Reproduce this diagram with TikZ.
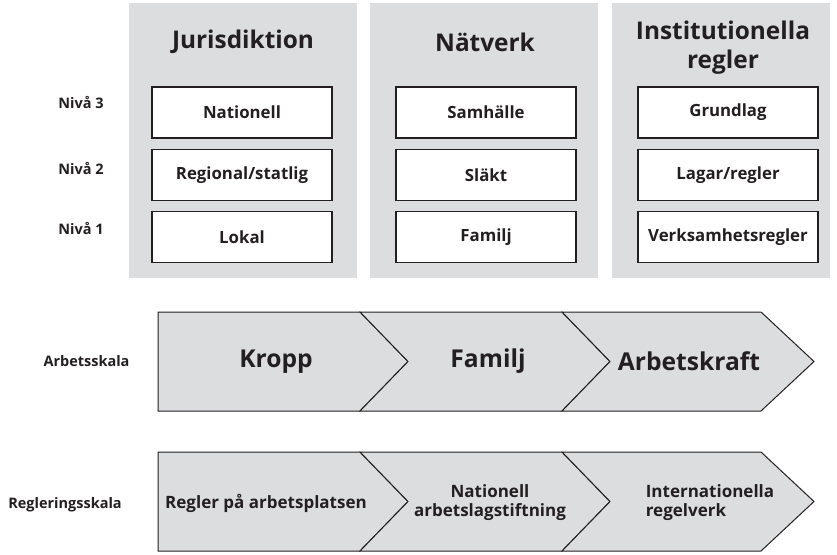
\documentclass[tikz,border=0pt]{standalone}
\usepackage{fontspec}
\setmainfont{Open Sans}
\definecolor{panelgray}{HTML}{DCDDDF}
\definecolor{ink}{HTML}{231F20}
\tikzset{
  panel/.style={fill=panelgray, draw=none},
  levelbox/.style={draw=ink, fill=white, line width=1.1pt, minimum width=180pt, minimum height=51pt, inner sep=0pt, font=\fontsize{16.8}{18}\selectfont\bfseries, text=ink},
  paneltitle/.style={font=\fontsize{24.4}{29}\selectfont\bfseries, text=ink, align=center},
  sidelabel/.style={font=\fontsize{14.5}{16}\selectfont\bfseries, text=ink},
  chev/.style={fill=panelgray, draw=ink, line width=1pt, line join=miter},
  bigtext/.style={font=\fontsize{24.6}{28}\selectfont\bfseries, text=ink},
  smalltext/.style={font=\fontsize{17}{19.5}\selectfont\bfseries, text=ink, align=center},
}
\begin{document}
\begin{tikzpicture}[x=1pt,y=-1pt]
\useasboundingbox (0,0) rectangle (837,554);
% panels
\fill[panel] (129,3) rectangle (357,278);
\fill[panel] (370,3) rectangle (598,278);
\fill[panel] (612,3) rectangle (830,278);
% titles
\node[paneltitle] (t1) at (243,42) {Jurisdiktion};
\node[paneltitle] (t2) at (485,42) {Nätverk};
\node[paneltitle] (t3) at (723,48) {Institutionella\\regler};
% level labels
\node[sidelabel] (n3) at (81,103) {Nivå 3};
\node[sidelabel] (n2) at (81,169) {Nivå 2};
\node[sidelabel] (n1) at (81,228) {Nivå 1};
% boxes
\node[levelbox] (a3) at (242,112.5) {Nationell};
\node[levelbox] (a2) at (242,175) {Regional/statlig};
\node[levelbox] (a1) at (242,237) {Lokal};
\node[levelbox] (b3) at (486,112.5) {Samhälle};
\node[levelbox] (b2) at (486,175) {Släkt};
\node[levelbox] (b1) at (486,237) {Familj};
\node[levelbox] (c3) at (728,112.5) {Grundlag};
\node[levelbox] (c2) at (728,175) {Lagar/regler};
\node[levelbox] (c1) at (728,237) {Verksamhetsregler};
% row 1 chevrons
\draw[chev] (158,312) -- (360,312) -- (408,361.5) -- (360,411) -- (158,411) -- cycle;
\draw[chev] (360,312) -- (562,312) -- (610,361.5) -- (562,411) -- (360,411) -- (408,361.5) -- cycle;
\draw[chev] (562,312) -- (761,312) -- (814,361.5) -- (761,411) -- (562,411) -- (610,361.5) -- cycle;
\node[bigtext] (k1) at (276,361.5) {Kropp};
\node[bigtext] (k2) at (488,361.5) {Familj};
\node[bigtext] (k3) at (689,361.5) {Arbetskraft};
\node[sidelabel] (ls1) at (86.5,361.5) {Arbetsskala};
% row 2 chevrons
\draw[chev] (158,452) -- (360,452) -- (408,501.5) -- (360,551) -- (158,551) -- cycle;
\draw[chev] (360,452) -- (562,452) -- (610,501.5) -- (562,551) -- (360,551) -- (408,501.5) -- cycle;
\draw[chev] (562,452) -- (761,452) -- (814,501.5) -- (761,551) -- (562,551) -- (610,501.5) -- cycle;
\node[smalltext] (r1) at (266,503) {Regler på arbetsplatsen};
\node[smalltext] (r2) at (490,502.5) {Nationell\\arbetslagstiftning};
\node[smalltext, align=left] (r3) at (710,502.5) {Internationella\\regelverk};
\node[sidelabel] (ls2) at (65,505) {Regleringsskala};
\end{tikzpicture}
\end{document}
